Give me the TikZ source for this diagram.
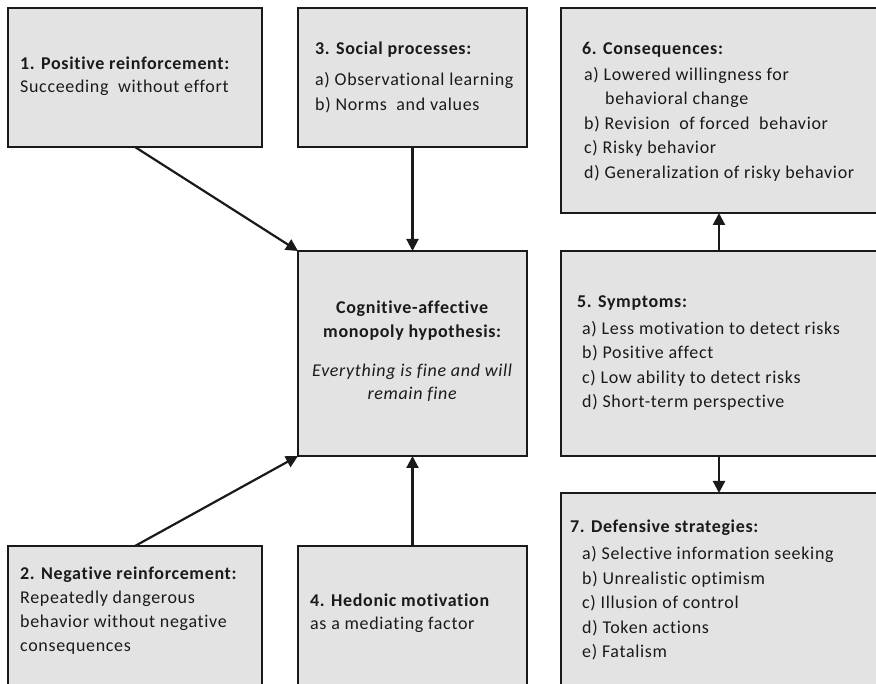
\documentclass[tikz,border=0pt]{standalone}
\usepackage{fontspec}
\setmainfont{Carlito}[LetterSpace=3.7, Ligatures=NoCommon]
\usetikzlibrary{arrows.meta}
\definecolor{boxfill}{HTML}{E3E3E3}
\definecolor{ink}{HTML}{1A1A1A}
\begin{document}
\begin{tikzpicture}[x=1pt,y=-1pt,
  box/.style={draw=ink, fill=boxfill, line width=2.2pt, rectangle, anchor=north west, inner sep=0pt, outer sep=0pt},
  txt/.style={anchor=north west, inner sep=0pt, align=left, text=ink, font=\fontsize{18}{24.5}\selectfont},
  ctxt/.style={anchor=center, inner sep=0pt, align=center, text=ink, font=\fontsize{18}{24.5}\selectfont},
  link/.style={draw=ink, line width=2.2pt, -{Triangle[length=12pt,width=12pt]}}]
\useasboundingbox (0,0) rectangle (876,684);
\clip (0,0) rectangle (876,684);

% boxes
\node[box, minimum width=254pt, minimum height=139pt] (b1) at (8,8) {};
\node[box, minimum width=229pt, minimum height=139pt] (b3) at (298,8) {};
\node[box, minimum width=316pt, minimum height=205pt] (b6) at (561,8) {};
\node[box, minimum width=229pt, minimum height=205pt] (bc) at (298,251) {};
\node[box, minimum width=316pt, minimum height=205pt] (b5) at (561,251) {};
\node[box, minimum width=316pt, minimum height=200pt] (b7) at (561,493) {};
\node[box, minimum width=254pt, minimum height=150pt] (b2) at (8,546) {};
\node[box, minimum width=229pt, minimum height=150pt] (b4) at (298,546) {};

% texts
\node[txt] (t1) at (20,57) {\textbf{1. Positive reinforcement:}\\[-1.5pt]Succeeding\ \ without effort};
\node[txt] (t3) at (315,42) {\textbf{3. Social processes:}\\[6.5pt]a) Observational learning\\b) Norms\ \ and values};
\node[txt] (t6) at (582,42) {\textbf{6. Consequences:}\\[1.5pt]
  \hspace*{2pt}a) Lowered willingness for\\
  \hspace*{23pt}behavioral change\\
  \hspace*{2pt}b) Revision\ \ of forced\ \ behavior\\
  \hspace*{2pt}c) Risky behavior\\
  \hspace*{2pt}d) Generalization of risky behavior};
\node[ctxt] (tc1) at (412.5,320.5) {\textbf{Cognitive-affective}\\\textbf{monopoly hypothesis:}};
\node[ctxt] (tc2) at (412.5,383) {\textit{Everything is fine and will}\\[-2pt]\textit{remain fine}};
\node[txt] (t5) at (577,295) {\textbf{5. Symptoms:}\\[2.5pt]
  \hspace*{5pt}a) Less motivation to detect risks\\
  \hspace*{5pt}b) Positive affect\\
  \hspace*{5pt}c) Low ability to detect risks\\
  \hspace*{5pt}d) Short-term perspective};
\node[txt] (t7) at (570,520) {\textbf{7. Defensive strategies:}\\[2.5pt]
  \hspace*{12pt}a) Selective information seeking\\
  \hspace*{12pt}b) Unrealistic optimism\\
  \hspace*{12pt}c) Illusion of control\\
  \hspace*{12pt}d) Token actions\\
  \hspace*{12pt}e) Fatalism};
\node[txt] (t2) at (20,567) {\textbf{2. Negative reinforcement:}\\[-0.5pt]Repeatedly dangerous\\[-0.5pt]behavior without negative\\[-1pt]consequences};
\node[txt] (t4) at (310,594) {\textbf{4. Hedonic motivation}\\[-2pt]as a mediating factor};

% connectors
\draw[link] (b1.south) -- (bc.north west);
\draw[link] (b3.south) -- (bc.north);
\draw[link] (b2.north) -- (bc.south west);
\draw[link] (b4.north) -- (bc.south);
\draw[link] (b5.north) -- (b6.south);
\draw[link] (b5.south) -- (b7.north);
\end{tikzpicture}
\end{document}
